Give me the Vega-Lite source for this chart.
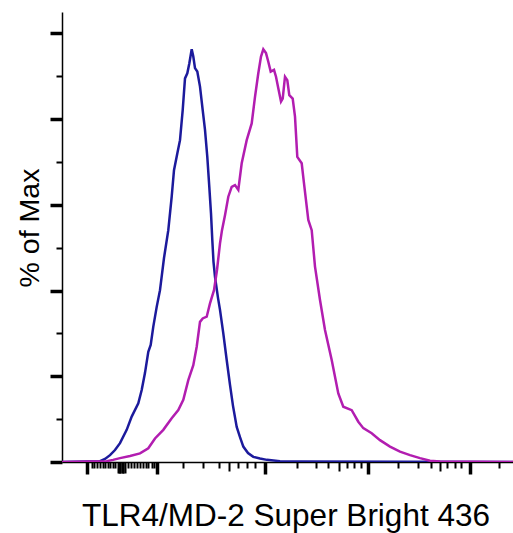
{
  "$schema": "https://vega.github.io/schema/vega-lite/v6.json",
  "width": 451,
  "height": 450,
  "autosize": {"type": "none"},
  "padding": {"left": 62, "top": 12, "right": 0, "bottom": 71},
  "background": "white",
  "config": {"view": {"stroke": null}, "font": "Liberation Sans"},
  "datasets": {
    "hist": [
      {"sample": "Isotype control", "channel": 0, "pct": 0},
      {"sample": "Isotype control", "channel": 38, "pct": 0.2},
      {"sample": "Isotype control", "channel": 43, "pct": 0.7},
      {"sample": "Isotype control", "channel": 48, "pct": 1.6},
      {"sample": "Isotype control", "channel": 53, "pct": 2.8},
      {"sample": "Isotype control", "channel": 58, "pct": 4.4},
      {"sample": "Isotype control", "channel": 64.7, "pct": 7.5},
      {"sample": "Isotype control", "channel": 69.7, "pct": 10.6},
      {"sample": "Isotype control", "channel": 76.3, "pct": 13.7},
      {"sample": "Isotype control", "channel": 79.7, "pct": 16.8},
      {"sample": "Isotype control", "channel": 83, "pct": 20.8},
      {"sample": "Isotype control", "channel": 86.3, "pct": 25.7},
      {"sample": "Isotype control", "channel": 88.7, "pct": 27.3},
      {"sample": "Isotype control", "channel": 91.3, "pct": 31.6},
      {"sample": "Isotype control", "channel": 94.7, "pct": 36.2},
      {"sample": "Isotype control", "channel": 98, "pct": 40.1},
      {"sample": "Isotype control", "channel": 102, "pct": 47.6},
      {"sample": "Isotype control", "channel": 106.3, "pct": 54.1},
      {"sample": "Isotype control", "channel": 109.7, "pct": 61.9},
      {"sample": "Isotype control", "channel": 112, "pct": 68.1},
      {"sample": "Isotype control", "channel": 115.3, "pct": 72},
      {"sample": "Isotype control", "channel": 118, "pct": 75.1},
      {"sample": "Isotype control", "channel": 120.7, "pct": 82.1},
      {"sample": "Isotype control", "channel": 123, "pct": 89.5},
      {"sample": "Isotype control", "channel": 125.3, "pct": 90.7},
      {"sample": "Isotype control", "channel": 127.3, "pct": 93},
      {"sample": "Isotype control", "channel": 129.7, "pct": 96.3},
      {"sample": "Isotype control", "channel": 131.3, "pct": 94.6},
      {"sample": "Isotype control", "channel": 133, "pct": 91.9},
      {"sample": "Isotype control", "channel": 135.3, "pct": 91.1},
      {"sample": "Isotype control", "channel": 138, "pct": 87.6},
      {"sample": "Isotype control", "channel": 140.7, "pct": 82.1},
      {"sample": "Isotype control", "channel": 143, "pct": 77.5},
      {"sample": "Isotype control", "channel": 145.3, "pct": 71.2},
      {"sample": "Isotype control", "channel": 147.3, "pct": 64.2},
      {"sample": "Isotype control", "channel": 149, "pct": 58},
      {"sample": "Isotype control", "channel": 150.3, "pct": 51.8},
      {"sample": "Isotype control", "channel": 151.5, "pct": 46.7},
      {"sample": "Isotype control", "channel": 153, "pct": 43.2},
      {"sample": "Isotype control", "channel": 156, "pct": 38.3},
      {"sample": "Isotype control", "channel": 158, "pct": 35.5},
      {"sample": "Isotype control", "channel": 161.3, "pct": 30},
      {"sample": "Isotype control", "channel": 164.7, "pct": 23.8},
      {"sample": "Isotype control", "channel": 168, "pct": 18},
      {"sample": "Isotype control", "channel": 171, "pct": 13.1},
      {"sample": "Isotype control", "channel": 174.7, "pct": 8.2},
      {"sample": "Isotype control", "channel": 178, "pct": 5.8},
      {"sample": "Isotype control", "channel": 181.3, "pct": 3.6},
      {"sample": "Isotype control", "channel": 186, "pct": 2.1},
      {"sample": "Isotype control", "channel": 191.3, "pct": 1.2},
      {"sample": "Isotype control", "channel": 198, "pct": 0.8},
      {"sample": "Isotype control", "channel": 205, "pct": 0.5},
      {"sample": "Isotype control", "channel": 218, "pct": 0.2},
      {"sample": "Isotype control", "channel": 238, "pct": 0.1},
      {"sample": "Isotype control", "channel": 451, "pct": 0},
      {"sample": "TLR4/MD-2", "channel": 0, "pct": 0},
      {"sample": "TLR4/MD-2", "channel": 44.7, "pct": 0.2},
      {"sample": "TLR4/MD-2", "channel": 51, "pct": 0.5},
      {"sample": "TLR4/MD-2", "channel": 58, "pct": 0.9},
      {"sample": "TLR4/MD-2", "channel": 68, "pct": 1.4},
      {"sample": "TLR4/MD-2", "channel": 78, "pct": 2},
      {"sample": "TLR4/MD-2", "channel": 86.3, "pct": 3.2},
      {"sample": "TLR4/MD-2", "channel": 93, "pct": 5.5},
      {"sample": "TLR4/MD-2", "channel": 101.3, "pct": 7.5},
      {"sample": "TLR4/MD-2", "channel": 109.7, "pct": 10.2},
      {"sample": "TLR4/MD-2", "channel": 116.3, "pct": 12.1},
      {"sample": "TLR4/MD-2", "channel": 121.3, "pct": 14.5},
      {"sample": "TLR4/MD-2", "channel": 126.3, "pct": 19.1},
      {"sample": "TLR4/MD-2", "channel": 131.3, "pct": 22.6},
      {"sample": "TLR4/MD-2", "channel": 134.7, "pct": 26.9},
      {"sample": "TLR4/MD-2", "channel": 138, "pct": 32.7},
      {"sample": "TLR4/MD-2", "channel": 140.7, "pct": 33.5},
      {"sample": "TLR4/MD-2", "channel": 144.7, "pct": 33.9},
      {"sample": "TLR4/MD-2", "channel": 148, "pct": 37},
      {"sample": "TLR4/MD-2", "channel": 152, "pct": 40.1},
      {"sample": "TLR4/MD-2", "channel": 155, "pct": 44.8},
      {"sample": "TLR4/MD-2", "channel": 158, "pct": 51},
      {"sample": "TLR4/MD-2", "channel": 160, "pct": 54.1},
      {"sample": "TLR4/MD-2", "channel": 163, "pct": 57.6},
      {"sample": "TLR4/MD-2", "channel": 166.3, "pct": 61.9},
      {"sample": "TLR4/MD-2", "channel": 169.7, "pct": 64.2},
      {"sample": "TLR4/MD-2", "channel": 173, "pct": 64.6},
      {"sample": "TLR4/MD-2", "channel": 176.3, "pct": 63.5},
      {"sample": "TLR4/MD-2", "channel": 179.7, "pct": 69.7},
      {"sample": "TLR4/MD-2", "channel": 184.7, "pct": 75.1},
      {"sample": "TLR4/MD-2", "channel": 189.7, "pct": 79},
      {"sample": "TLR4/MD-2", "channel": 193, "pct": 85.2},
      {"sample": "TLR4/MD-2", "channel": 196.3, "pct": 90.7},
      {"sample": "TLR4/MD-2", "channel": 199, "pct": 94.6},
      {"sample": "TLR4/MD-2", "channel": 201.3, "pct": 96.3},
      {"sample": "TLR4/MD-2", "channel": 204, "pct": 95.4},
      {"sample": "TLR4/MD-2", "channel": 206.3, "pct": 93.4},
      {"sample": "TLR4/MD-2", "channel": 208.7, "pct": 91.1},
      {"sample": "TLR4/MD-2", "channel": 212, "pct": 91.5},
      {"sample": "TLR4/MD-2", "channel": 214, "pct": 89.9},
      {"sample": "TLR4/MD-2", "channel": 216.3, "pct": 87.2},
      {"sample": "TLR4/MD-2", "channel": 219, "pct": 84.1},
      {"sample": "TLR4/MD-2", "channel": 220.7, "pct": 84.8},
      {"sample": "TLR4/MD-2", "channel": 223, "pct": 89.9},
      {"sample": "TLR4/MD-2", "channel": 225.3, "pct": 89.1},
      {"sample": "TLR4/MD-2", "channel": 227.3, "pct": 85.6},
      {"sample": "TLR4/MD-2", "channel": 230.7, "pct": 84.8},
      {"sample": "TLR4/MD-2", "channel": 233, "pct": 80.6},
      {"sample": "TLR4/MD-2", "channel": 235.3, "pct": 71.2},
      {"sample": "TLR4/MD-2", "channel": 239.7, "pct": 69.7},
      {"sample": "TLR4/MD-2", "channel": 242, "pct": 65},
      {"sample": "TLR4/MD-2", "channel": 246.3, "pct": 56.5},
      {"sample": "TLR4/MD-2", "channel": 249.7, "pct": 54.1},
      {"sample": "TLR4/MD-2", "channel": 253, "pct": 45.6},
      {"sample": "TLR4/MD-2", "channel": 258, "pct": 37.8},
      {"sample": "TLR4/MD-2", "channel": 263, "pct": 30.8},
      {"sample": "TLR4/MD-2", "channel": 269.7, "pct": 23.8},
      {"sample": "TLR4/MD-2", "channel": 276.3, "pct": 16},
      {"sample": "TLR4/MD-2", "channel": 281.3, "pct": 12.9},
      {"sample": "TLR4/MD-2", "channel": 289.7, "pct": 12.1},
      {"sample": "TLR4/MD-2", "channel": 296.3, "pct": 9.4},
      {"sample": "TLR4/MD-2", "channel": 301.3, "pct": 7.9},
      {"sample": "TLR4/MD-2", "channel": 309.7, "pct": 6.7},
      {"sample": "TLR4/MD-2", "channel": 318, "pct": 5.1},
      {"sample": "TLR4/MD-2", "channel": 328, "pct": 3.6},
      {"sample": "TLR4/MD-2", "channel": 338, "pct": 2.4},
      {"sample": "TLR4/MD-2", "channel": 348, "pct": 1.6},
      {"sample": "TLR4/MD-2", "channel": 358, "pct": 0.9},
      {"sample": "TLR4/MD-2", "channel": 368, "pct": 0.3},
      {"sample": "TLR4/MD-2", "channel": 378, "pct": 0.1},
      {"sample": "TLR4/MD-2", "channel": 451, "pct": 0}
    ]
  },
  "layer": [
    {
      "data": {"name": "hist"},
      "mark": {"type": "line", "strokeWidth": 2.5, "interpolate": "linear", "clip": true},
      "encoding": {
        "x": {
          "field": "channel",
          "type": "quantitative",
          "scale": {"domain": [0, 451], "nice": false, "zero": false},
          "axis": {
            "title": "TLR4/MD-2 Super Bright 436",
            "values": [24.7, 29.7, 32.3, 35.3, 38, 40.7, 43, 45.7, 48, 50.7, 53, 55.5, 56.5, 57.5, 58.5, 59.5, 60.5, 61.5, 62.5, 66.3, 69, 72, 74.7, 78, 80.7, 84, 86.3, 89.7, 92, 95.3, 121.3, 141.3, 157.3, 167.3, 176.3, 185.3, 193, 203, 234.7, 254, 266.3, 277.3, 284.7, 292, 298.7, 306.3, 336, 356, 368.7, 377.7, 385.3, 392.7, 399.3, 407.7, 437],
            "labels": false,
            "grid": false,
            "domainColor": "black",
            "domainWidth": 1.5,
            "tickColor": "black",
            "tickSize": {"expr": "indexof([24.7,95.3,203,306.3,407.7], datum.value) >= 0 ? 12 : (indexof([167.3,277.3,377.7], datum.value) >= 0 ? 9 : ((datum.value > 55 && datum.value < 63) ? 11 : 6))"},
            "tickWidth": {"expr": "indexof([24.7,95.3,203,306.3,407.7], datum.value) >= 0 ? 3.5 : ((datum.value > 55 && datum.value < 63) ? 2 : 2)"},
            "titleFont": "Liberation Sans",
            "titleFontSize": 31.5,
            "titleFontWeight": "normal",
            "titleColor": "black",
            "titleBaseline": "alphabetic",
            "titleAlign": "center",
            "titleX": 223.5,
            "titleY": 63
          }
        },
        "y": {
          "field": "pct",
          "type": "quantitative",
          "scale": {"domain": [0, 105], "nice": false, "zero": true},
          "axis": {
            "title": "% of Max",
            "values": [0, 5, 10, 15, 20, 25, 30, 35, 40, 45, 50, 55, 60, 65, 70, 75, 80, 85, 90, 95, 100, 105],
            "labels": false,
            "grid": false,
            "domainColor": "black",
            "domainWidth": 1.5,
            "tickColor": "black",
            "tickSize": {"expr": "datum.value % 20 == 0 ? 12 : 6"},
            "tickWidth": {"expr": "datum.value % 20 == 0 ? 3.5 : 2"},
            "titleFont": "Liberation Sans",
            "titleFontSize": 28.5,
            "titleFontWeight": "normal",
            "titleColor": "black",
            "titleBaseline": "alphabetic",
            "titleAlign": "center",
            "titleAngle": -90,
            "titleX": -24,
            "titleY": 215.5
          }
        },
        "color": {
          "field": "sample",
          "type": "nominal",
          "scale": {"domain": ["Isotype control", "TLR4/MD-2"], "range": ["#1c1a9c", "#b21db0"]},
          "legend": null
        }
      }
    },
    {
      "mark": {"type": "rule", "color": "black", "strokeWidth": 1.5},
      "encoding": {"y": {"datum": 105, "type": "quantitative"}}
    }
  ]
}
